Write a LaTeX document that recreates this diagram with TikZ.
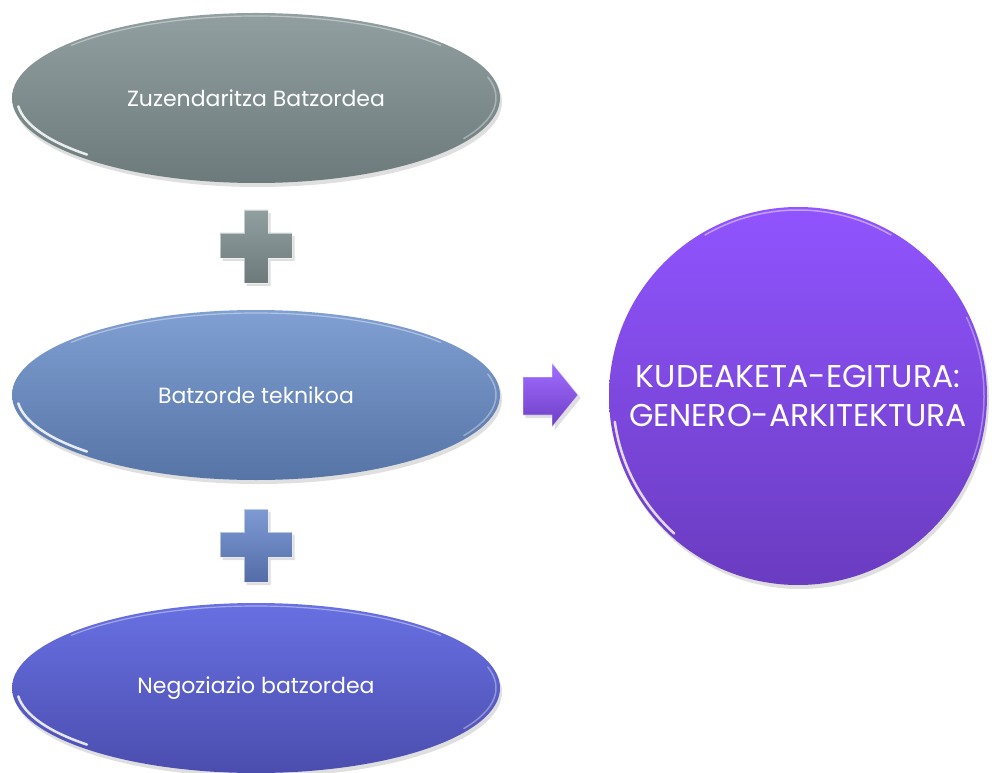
\documentclass[tikz,border=0pt]{standalone}
\usepackage{fontspec}
\setmainfont{Poppins}
\usetikzlibrary{shapes.geometric,shadows}

\definecolor{grayTop}{HTML}{919FA1}
\definecolor{grayBot}{HTML}{6C7A7C}
\definecolor{steelTop}{HTML}{809FD2}
\definecolor{steelBot}{HTML}{5674A6}
\definecolor{blueTop}{HTML}{6870E2}
\definecolor{blueBot}{HTML}{4B4DAE}
\definecolor{violetTop}{HTML}{9154FF}
\definecolor{violetBot}{HTML}{6A3CC0}

\tikzset{
  batzordea/.style={ellipse, minimum width=488pt, minimum height=170pt, inner sep=0pt,
    text=white, font=\fontsize{22}{26}\selectfont,
    drop shadow={opacity=0.25, shadow xshift=2pt, shadow yshift=-4pt}},
  distira/.style={white, line cap=round},
  gehi/.style={draw=white, draw opacity=0.5, line width=0.8pt, line join=miter}
}

\begin{document}
\begin{tikzpicture}[x=1pt, y=1pt]
            \useasboundingbox (0, 0) rectangle (992, 772);
            \fill[white](0, 0) rectangle (992, 772);

            %%batzordeak
            \node[batzordea, top color=grayTop, bottom color=grayBot] (zuzendaritza) at(256, 674){Zuzendaritza Batzordea};
            \node[batzordea, top color=steelTop, bottom color=steelBot] (teknikoa) at(256, 377){Batzorde teknikoa};
            \node[batzordea, top color=blueTop, bottom color=blueBot] (negoziazio) at(256, 84){Negoziazio batzordea};

            %%distirak
            \foreach \cy in {674, 377, 84}{
                \draw[distira, opacity=0.4, line width=1.2pt](256, \cy) ++(40:241 and 82) arc[start angle=40, end angle=140, x radius=241, y radius=82];
                \draw[distira, opacity=0.85, line width=2.5pt](256, \cy) ++(186:239 and 80) arc[start angle=186, end angle=225, x radius=239, y radius=80];
                \draw[distira, opacity=0.35, line width=1.5pt](256, \cy) ++(-30:240 and 81) arc[start angle=-30, end angle=15, x radius=240, y radius=81];
            }

            %%gehi ikurrak
            \draw[gehi, top color=grayTop, bottom color=grayBot, drop shadow={opacity=0.25, shadow yshift=-3pt}]
                (244, 562) -- (268, 562) -- (268, 539) -- (292, 539) -- (292, 514) -- (268, 514)
                -- (268, 489) -- (244, 489) -- (244, 514) -- (220, 514) -- (220, 539) -- (244, 539) -- cycle;
            \draw[gehi, top color=steelTop!90!blueTop, bottom color=steelBot!80!blueBot, drop shadow={opacity=0.25, shadow yshift=-3pt}]
                (244, 263) -- (268, 263) -- (268, 240) -- (292, 240) -- (292, 215) -- (268, 215)
                -- (268, 190) -- (244, 190) -- (244, 215) -- (220, 215) -- (220, 240) -- (244, 240) -- cycle;

            %%gezia
            \draw[gehi, top color=violetTop!85!white, bottom color=violetBot!90!violetTop, drop shadow={opacity=0.25, shadow yshift=-3pt}]
                (523, 395) -- (552, 395) -- (552, 409) -- (578, 377) -- (552, 345) -- (552, 357) -- (523, 357) -- cycle;

            %%egitura
            \node[circle, minimum size=378pt, inner sep=0pt, top color=violetTop, bottom color=violetBot,
                text=white, align=center, font=\fontsize{31.5}{39}\selectfont,
                drop shadow={opacity=0.25, shadow xshift=2pt, shadow yshift=-4pt}] (egitura) at(798, 376)
                {KUDEAKETA-EGITURA:\\GENERO-ARKITEKTURA};
            \draw[distira, opacity=0.45, line width=1.5pt](798, 376) ++(60:186) arc[start angle=60, end angle=120, radius=186];
            \draw[distira, opacity=0.8, line width=2.5pt](798, 376) ++(188:185) arc[start angle=188, end angle=228, radius=185];
            \draw[distira, opacity=0.35, line width=1.5pt](798, 376) ++(-20:186) arc[start angle=-20, end angle=25, radius=186];
        \end{tikzpicture}
\end{document}
